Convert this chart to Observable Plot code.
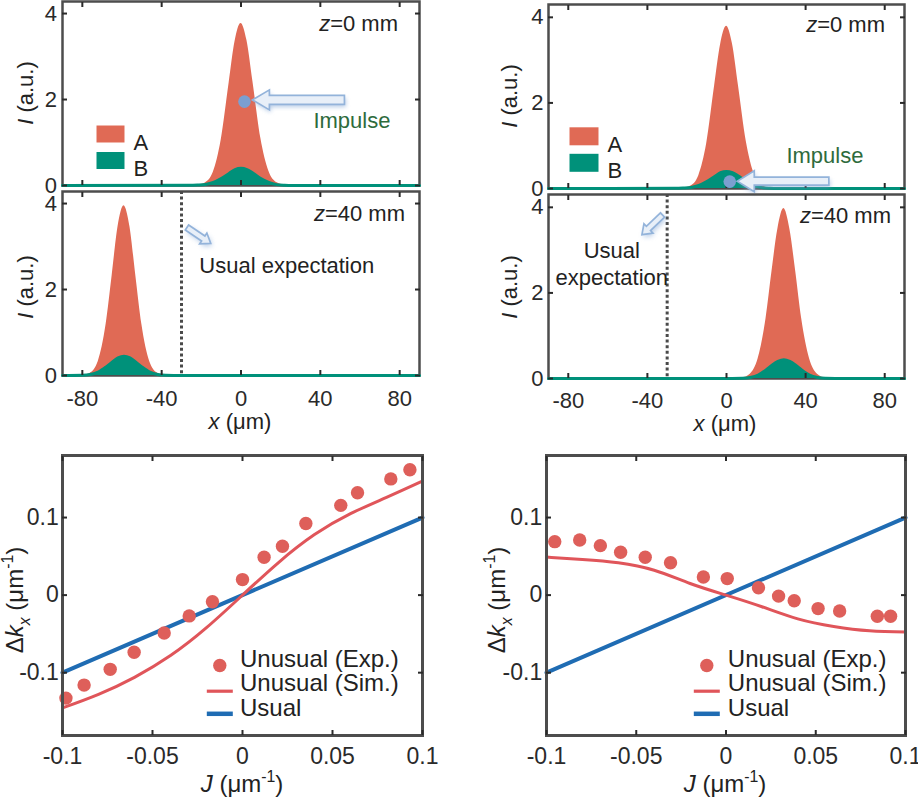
<!DOCTYPE html>
<html><head><meta charset="utf-8">
<script src="https://cdn.jsdelivr.net/npm/d3@7"></script>
<script src="https://cdn.jsdelivr.net/npm/@observablehq/plot@0.6"></script>
<style>
body{margin:0;background:#fff;}
#fig{position:relative;width:918px;height:797px;overflow:hidden;background:#fff;}
#fig svg{position:absolute;overflow:visible;max-width:none;}
</style></head><body><div id="fig"></div>
<script>
const FONT = '"Liberation Sans", Arial, Helvetica, sans-serif';
const colA = "#e06a55", colB = "#00917a", frameCol = "#4d4d4d", txtCol = "#222";
const colPt = "#de5f5a", colSim = "#e0555a", colUsual = "#1f6cb3";
const colImpulse = "#2e6b3c", colBlueDot = "#7b9fd0";

// ---------- top panels: I(x) profiles ----------
const xTicks = [-80, -40, 0, 40, 80];
const yTicksTop = [0, 2, 4];
const legendAB = ["A", "B"];

// left column, z = 0 mm
const xL0 = [-90, -26, -22, -18, -14, -10, -6, -3, 0, 3, 6, 10, 14, 18, 22, 26, 90];
const AL0 = [0, 0, 0.01, 0.06, 0.30, 1.05, 2.38, 3.35, 3.77, 3.37, 2.42, 1.10, 0.34, 0.07, 0.01, 0, 0];
const BL0 = [0, 0.003, 0.01, 0.025, 0.07, 0.16, 0.28, 0.37, 0.40, 0.37, 0.29, 0.16, 0.07, 0.02, 0.005, 0, 0];
// left column, z = 40 mm
const xL40 = [-90, -80, -76, -72, -68, -65, -62, -59, -56, -53, -50, -46, -42, -38, -30, 90];
const AL40 = [0, 0.006, 0.054, 0.32, 1.19, 2.31, 3.46, 3.95, 3.46, 2.31, 1.19, 0.32, 0.054, 0.006, 0, 0];
const BL40 = [0, 0.005, 0.023, 0.08, 0.20, 0.31, 0.41, 0.45, 0.41, 0.31, 0.20, 0.08, 0.023, 0.005, 0, 0];
// right column, z = 0 mm
const xR0 = [-90, -26, -22, -18, -14, -10, -6, -3, 0, 3, 6, 10, 14, 18, 22, 26, 90];
const AR0 = [0, 0, 0.01, 0.06, 0.30, 1.05, 2.40, 3.36, 3.79, 3.38, 2.42, 1.10, 0.34, 0.07, 0.01, 0, 0];
const BR0 = [0, 0.003, 0.01, 0.025, 0.07, 0.16, 0.28, 0.37, 0.40, 0.37, 0.29, 0.16, 0.07, 0.02, 0.005, 0, 0];
// right column, z = 40 mm
const xR40 = [-90, -2, 8, 12, 16, 20, 23, 26, 29, 32, 35, 38, 42, 46, 50, 60, 90];
const AR40 = [0, 0, 0.015, 0.10, 0.46, 1.40, 2.50, 3.50, 3.97, 3.50, 2.50, 1.40, 0.46, 0.10, 0.015, 0, 0];
const BR40 = [0, 0, 0.006, 0.025, 0.08, 0.20, 0.31, 0.40, 0.44, 0.40, 0.31, 0.20, 0.08, 0.025, 0.006, 0, 0];

// annotations (data units)
const dashX = [-30];
const impulseL = {dot: [2, 1.94], tail: [52.4, 1.98], tip: [6, 1.98], text: [36.5, 1.49]};
const impulseR = {dot: [1.9, 0.15], tail: [52, 0.16], tip: [5.7, 0.16], text: [30.3, 0.75]};
const usualL = {tail: [-27, 3.43], tip: [-15, 3.06], text: [[-21, 2.55, "Usual expectation"]]};
const usualR = {tail: [-32.1, 3.81], tip: [-42.5, 3.35], text: [[-58, 2.98, "Usual"], [-58, 2.36, "expectation"]]};

// ---------- bottom panels: Δk_x vs J ----------
const jTicks = [-0.1, -0.05, 0, 0.05, 0.1];
const kTicks = [-0.1, 0, 0.1];
const legendJ = ["Unusual (Exp.)", "Unusual (Sim.)", "Usual"];
const usualJ = [-0.1, 0.1];
const usualK = [-0.1, 0.1];
const simJ = [-0.1, -0.08, -0.06, -0.04, -0.02, 0, 0.02, 0.04, 0.06, 0.08, 0.1];
const simK_L = [-0.1455, -0.128, -0.106, -0.078, -0.042, 0, 0.042, 0.078, 0.105, 0.126, 0.147];
const simK_R = [0.049, 0.046, 0.0417, 0.032, 0.015, 0, -0.015, -0.0306, -0.0404, -0.046, -0.0477];
const expJ_L = [-0.0981, -0.088, -0.0735, -0.0602, -0.0435, -0.0296, -0.0167, 0, 0.012, 0.0222, 0.0352, 0.0546, 0.0639, 0.0824, 0.093];
const expK_L = [-0.1328, -0.116, -0.0957, -0.0736, -0.0489, -0.0268, -0.0085, 0.020, 0.0489, 0.063, 0.0923, 0.1157, 0.1319, 0.1498, 0.1617];
const expJ_R = [-0.0954, -0.0815, -0.070, -0.0587, -0.045, -0.0309, -0.0126, 0.0007, 0.0181, 0.0293, 0.038, 0.0513, 0.0633, 0.0843, 0.0917];
const expK_R = [0.0689, 0.0711, 0.0638, 0.0553, 0.0489, 0.0417, 0.0234, 0.0213, 0.0094, -0.0013, -0.0072, -0.0174, -0.0204, -0.0272, -0.0272];

const fig = document.getElementById("fig");
const rectSym = (w, h) => ({draw(ctx) { ctx.rect(-w / 2, -h / 2, w, h); }});
const zip = (xs, ys) => xs.map((x, i) => ({x, y: ys[i]}));

function place(chart, left, top) {
  chart.style.left = left + "px";
  chart.style.top = top + "px";
  chart._left = left; chart._top = top;
  fig.appendChild(chart);
  return chart;
}

function rich(chart, px, py, parts, {size = 22, anchor = "middle", rotate = 0, fill = txtCol} = {}) {
  const t = d3.select(chart).append("text")
    .attr("transform", `translate(${px - chart._left},${py - chart._top}) rotate(${rotate})`)
    .attr("y", 0.35 * size)
    .attr("text-anchor", anchor).attr("font-size", size).attr("font-family", FONT).attr("fill", fill);
  let shift = 0;
  for (const p of parts) {
    const s = t.append("tspan").text(p.t);
    if (p.i) s.attr("font-style", "italic");
    const target = p.sup ? -0.42 * size : p.sub ? 0.28 * size : 0;
    if (p.sup || p.sub) s.attr("font-size", 0.66 * size);
    if (target !== shift) { s.attr("dy", target - shift); shift = target; }
  }
}

let filterId = 0;
function hollowArrow(chart, tail, tip, {bw, hw, hl, blur = 2.2}) {
  const sx = chart.scale("x"), sy = chart.scale("y");
  const ax = sx.apply(tail[0]), ay = sy.apply(tail[1]);
  const bx = sx.apply(tip[0]), by = sy.apply(tip[1]);
  const dx = bx - ax, dy = by - ay, L = Math.hypot(dx, dy);
  const ux = dx / L, uy = dy / L, nx = -uy, ny = ux;
  const kx = bx - ux * hl, ky = by - uy * hl;
  const pts = [
    [ax + nx * bw, ay + ny * bw], [kx + nx * bw, ky + ny * bw], [kx + nx * hw, ky + ny * hw],
    [bx, by], [kx - nx * hw, ky - ny * hw], [kx - nx * bw, ky - ny * bw], [ax - nx * bw, ay - ny * bw]
  ].map(p => p.join(",")).join(" ");
  const id = "glow" + (filterId++);
  const svg = d3.select(chart);
  svg.append("defs").append("filter").attr("id", id).attr("x", "-50%").attr("y", "-50%").attr("width", "200%").attr("height", "200%")
    .append("feGaussianBlur").attr("stdDeviation", blur);
  const g = svg.append("g");
  g.append("polygon").attr("points", pts).attr("fill", "#7fa3d3").attr("opacity", 0.55)
    .attr("filter", `url(#${id})`).attr("transform", "translate(1.5,2.5)");
  g.append("polygon").attr("points", pts).attr("fill", "#e8eff8").attr("stroke", "#93b3da")
    .attr("stroke-width", 1.7).attr("stroke-linejoin", "miter");
}

function dotAt(chart, pt, r, fill) {
  d3.select(chart).append("circle")
    .attr("cx", chart.scale("x").apply(pt[0])).attr("cy", chart.scale("y").apply(pt[1]))
    .attr("r", r).attr("fill", fill);
}

function topPanel(p) {
  const chart = Plot.plot({
    width: p.w, height: p.h,
    marginTop: p.mt, marginBottom: p.mb, marginLeft: p.ml, marginRight: p.mr,
    x: {domain: [-90, 90]},
    y: {domain: [0, p.ymax]},
    style: {fontFamily: FONT, fontSize: "22px", color: "#2a2a2a", background: "transparent", overflow: "visible"},
    marks: [
      Plot.frame({stroke: frameCol, strokeWidth: 2.5}),
      Plot.areaY(zip(p.xs, p.A), {x: "x", y: "y", fill: colA, curve: "monotone-x"}),
      Plot.areaY(zip(p.xs, p.B), {x: "x", y: "y", fill: colB, curve: "monotone-x"}),
      Plot.lineY(zip(p.xs, p.B), {x: "x", y: "y", stroke: colB, strokeWidth: 3, curve: "monotone-x"}),
      ...(p.marks || []),
      Plot.axisX({anchor: "bottom", ticks: xTicks, tickSize: -5, strokeWidth: 2, tickPadding: p.xpad || 0,
        tickFormat: p.xlab ? d => String(d) : () => "", label: null}),
      Plot.axisX({anchor: "top", ticks: xTicks, tickSize: -5, strokeWidth: 2, tickFormat: () => "", label: null}),
      Plot.axisY({anchor: "left", ticks: yTicksTop, tickSize: -5, strokeWidth: 2, tickPadding: p.ypad,
        tickFormat: d => String(d), label: null}),
      Plot.axisY({anchor: "right", ticks: yTicksTop, tickSize: -5, strokeWidth: 2, tickFormat: () => "", label: null})
    ]
  });
  return place(chart, p.left, p.top);
}

function legendABMarks(dxSw, dySw, w, h, dxTx) {
  return [
    Plot.dot([0], {frameAnchor: "top-left", dx: dxSw, dy: dySw[0], symbol: rectSym(w, h), fill: colA, stroke: "none"}),
    Plot.dot([0], {frameAnchor: "top-left", dx: dxSw, dy: dySw[1], symbol: rectSym(w, h), fill: colB, stroke: "none"}),
    Plot.text([legendAB[0]], {text: d => d, frameAnchor: "top-left", dx: dxTx, dy: dySw[0], textAnchor: "start", fill: txtCol, fontSize: 22}),
    Plot.text([legendAB[1]], {text: d => d, frameAnchor: "top-left", dx: dxTx, dy: dySw[1], textAnchor: "start", fill: txtCol, fontSize: 22})
  ];
}

const dashMark = () => Plot.ruleX(dashX, {stroke: "#4a4a4a", strokeWidth: 3, strokeDasharray: "3,2.6"});

// ---- TL1 ----
const tl1 = topPanel({left: 0, top: 0, w: 430, h: 188, mt: 1, mb: 3, ml: 62, mr: 11, ymax: 4.28,
  xs: xL0, A: AL0, B: BL0, ypad: 10.5,
  marks: [
    ...legendABMarks(48, [132.5, 159], 28, 17, 71),
    Plot.text([impulseL.text], {x: d => d[0], y: d => d[1], text: () => "Impulse", textAnchor: "start", fill: colImpulse, fontSize: 22})
  ]});
hollowArrow(tl1, impulseL.tail, impulseL.tip, {bw: 4.5, hw: 10, hl: 17});
dotAt(tl1, impulseL.dot, 6.3, colBlueDot);
rich(tl1, 398, 23, [{t: "z", i: true}, {t: "=0 mm"}], {anchor: "end"});
rich(tl1, 25, 93, [{t: "I", i: true}, {t: " (a.u.)"}], {rotate: -90});

// ---- TL2 ----
const tl2 = topPanel({left: 0, top: 188, w: 430, h: 252, mt: 3, mb: 65, ml: 62, mr: 11, ymax: 4.28,
  xs: xL40, A: AL40, B: BL40, ypad: 10.5, xlab: true, xpad: 20,
  marks: [
    dashMark(),
    Plot.text(usualL.text, {x: d => d[0], y: d => d[1], text: d => d[2], textAnchor: "start", fill: txtCol, fontSize: 22})
  ]});
hollowArrow(tl2, usualL.tail, usualL.tip, {bw: 3, hw: 6.5, hl: 9, blur: 2.8});
rich(tl2, 405, 213, [{t: "z", i: true}, {t: "=40 mm"}], {anchor: "end"});
rich(tl2, 25, 287, [{t: "I", i: true}, {t: " (a.u.)"}], {rotate: -90});
rich(tl2, 240, 421, [{t: "x", i: true}, {t: " (μm)"}]);

// ---- TR1 ----
const tr1 = topPanel({left: 488, top: 0, w: 430, h: 192, mt: 4, mb: 4, ml: 60, mr: 14, ymax: 4.30,
  xs: xR0, A: AR0, B: BR0, ypad: 10,
  marks: [
    ...legendABMarks(35.5, [131.8, 158.3], 29, 18, 59),
    Plot.text([impulseR.text], {x: d => d[0], y: d => d[1], text: () => "Impulse", textAnchor: "start", fill: colImpulse, fontSize: 22})
  ]});
hollowArrow(tr1, impulseR.tail, impulseR.tip, {bw: 4, hw: 10.5, hl: 17});
dotAt(tr1, impulseR.dot, 6.3, colBlueDot);
rich(tr1, 885, 24, [{t: "z", i: true}, {t: "=0 mm"}], {anchor: "end"});
rich(tr1, 509, 96, [{t: "I", i: true}, {t: " (a.u.)"}], {rotate: -90});

// ---- TR2 ----
const tr2 = topPanel({left: 488, top: 192, w: 430, h: 248, mt: 2, mb: 62, ml: 60, mr: 14, ymax: 4.30,
  xs: xR40, A: AR40, B: BR40, ypad: 10, xlab: true, xpad: 18.7,
  marks: [
    dashMark(),
    Plot.text(usualR.text, {x: d => d[0], y: d => d[1], text: d => d[2], textAnchor: "middle", fill: txtCol, fontSize: 22})
  ]});
hollowArrow(tr2, usualR.tail, usualR.tip, {bw: 3, hw: 6.5, hl: 9, blur: 2.8});
rich(tr2, 891, 215, [{t: "z", i: true}, {t: "=40 mm"}], {anchor: "end"});
rich(tr2, 509, 287, [{t: "I", i: true}, {t: " (a.u.)"}], {rotate: -90});
rich(tr2, 725, 423, [{t: "x", i: true}, {t: " (μm)"}]);

// ---- bottom panels ----
function bottomPanel(p) {
  const chart = Plot.plot({
    width: p.w, height: 357,
    marginTop: 15, marginBottom: 62, marginLeft: 62, marginRight: p.mr,
    x: {domain: [-0.1, 0.1]},
    y: {domain: [-0.181, 0.18]},
    style: {fontFamily: FONT, fontSize: "23px", color: "#2a2a2a", background: "transparent", overflow: "visible"},
    marks: [
      Plot.line(zip(usualJ, usualK), {x: "x", y: "y", stroke: colUsual, strokeWidth: 4}),
      Plot.line(zip(simJ, p.sim), {x: "x", y: "y", stroke: colSim, strokeWidth: 3, curve: "natural"}),
      Plot.dot(zip(p.ej, p.ek), {x: "x", y: "y", r: 6.7, fill: colPt, stroke: "none"}),
      Plot.dot([0], {frameAnchor: "bottom-left", dx: p.ldx, dy: -70, r: 6.7, fill: colPt, stroke: "none"}),
      Plot.dot([0], {frameAnchor: "bottom-left", dx: p.ldx, dy: -44.3, symbol: rectSym(26, 3.2), fill: colSim, stroke: "none"}),
      Plot.dot([0], {frameAnchor: "bottom-left", dx: p.ldx, dy: -21.7, symbol: rectSym(26, 4.5), fill: colUsual, stroke: "none"}),
      Plot.text([legendJ[0]], {text: d => d, frameAnchor: "bottom-left", dx: p.tdx, dy: -68.3, textAnchor: "start", fill: txtCol, fontSize: 24}),
      Plot.text([legendJ[1]], {text: d => d, frameAnchor: "bottom-left", dx: p.tdx, dy: -44.3, textAnchor: "start", fill: txtCol, fontSize: 24}),
      Plot.text([legendJ[2]], {text: d => d, frameAnchor: "bottom-left", dx: p.tdx, dy: -20, textAnchor: "start", fill: txtCol, fontSize: 24}),
      Plot.frame({stroke: frameCol, strokeWidth: 3}),
      Plot.axisX({anchor: "bottom", ticks: jTicks, tickSize: -5, strokeWidth: 2, tickPadding: 16.7, tickFormat: d => String(d), label: null}),
      Plot.axisX({anchor: "top", ticks: jTicks, tickSize: -5, strokeWidth: 2, tickFormat: () => "", label: null}),
      Plot.axisY({anchor: "left", ticks: kTicks, tickSize: -5, strokeWidth: 2, tickPadding: p.ypad, tickFormat: d => String(d), label: null}),
      Plot.axisY({anchor: "right", ticks: kTicks, tickSize: -5, strokeWidth: 2, tickFormat: () => "", label: null})
    ]
  });
  return place(chart, p.left, 440);
}

const dkParts = [{t: "Δ"}, {t: "k", i: true}, {t: "x", i: true, sub: true}, {t: " (μm"}, {t: "-1", sup: true}, {t: ")"}];
const jParts = [{t: "J", i: true}, {t: " (μm"}, {t: "-1", sup: true}, {t: ")"}];

const bl = bottomPanel({left: 0, w: 440, mr: 18, sim: simK_L, ej: expJ_L, ek: expK_L, ldx: 157.3, tdx: 177.5, ypad: 8.7});
rich(bl, 15, 600, dkParts, {size: 24, rotate: -90});
rich(bl, 242, 784, jParts, {size: 24});

const br = bottomPanel({left: 484, w: 434, mr: 13, sim: simK_R, ej: expJ_R, ek: expK_R, ldx: 160.3, tdx: 181.3, ypad: 9.3});
rich(br, 497, 600, dkParts, {size: 24, rotate: -90});
rich(br, 725, 784, jParts, {size: 24});
</script></body></html>
